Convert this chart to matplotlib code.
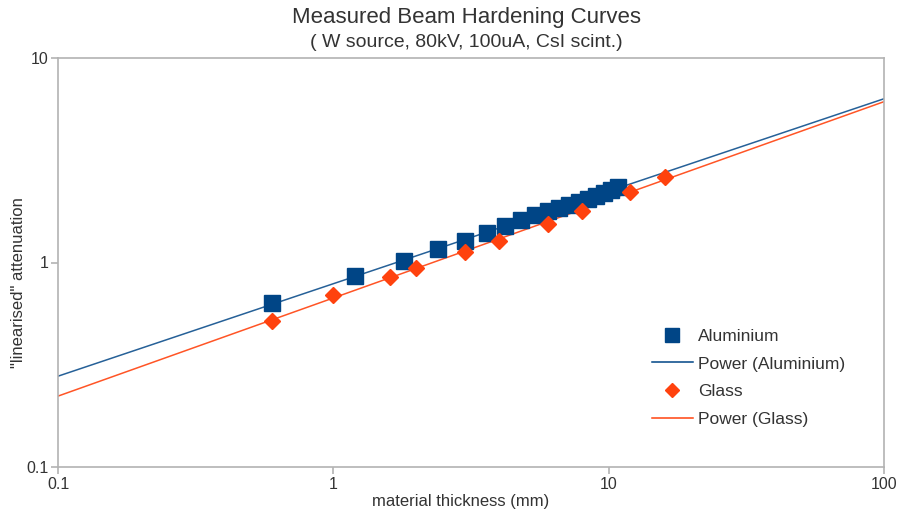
import numpy as np
import matplotlib
matplotlib.use("Agg")
import matplotlib.pyplot as plt
from matplotlib.lines import Line2D

plt.rcParams['font.family'] = ['Liberation Sans', 'DejaVu Sans']

# measured points
al_thickness = [0.6, 1.2, 1.8, 2.4, 3.0, 3.6, 4.2, 4.8, 5.4, 6.0,
                6.6, 7.2, 7.8, 8.4, 9.0, 9.6, 10.2, 10.8]
al_atten = [0.635, 0.855, 1.02, 1.16, 1.28, 1.39, 1.50, 1.61, 1.71, 1.78,
            1.85, 1.92, 1.98, 2.05, 2.12, 2.19, 2.26, 2.35]
glass_thickness = [0.6, 1.0, 1.6, 2.0, 3.0, 4.0, 6.0, 8.0, 12.0, 16.0]
glass_atten = [0.52, 0.69, 0.85, 0.935, 1.13, 1.28, 1.55, 1.78, 2.22, 2.63]

AL_COL = '#004586'
GL_COL = '#ff420e'
TXT = '#333333'


def power_fit(x, y):
    b, loga = np.polyfit(np.log10(x), np.log10(y), 1)
    return 10 ** loga, b


fig = plt.figure(figsize=(8.97, 5.14), dpi=100)
ax = fig.add_axes([58 / 897, 1 - 467 / 514, (884 - 58) / 897, (467 - 58) / 514])
ax.set_xscale('log')
ax.set_yscale('log')
ax.set_xlim(0.1, 100)
ax.set_ylim(0.1, 10)

xx = np.logspace(-1, 2, 200)
a, b = power_fit(al_thickness, al_atten)
ax.plot(xx, a * xx ** b, color=AL_COL, lw=1.1, alpha=0.85, zorder=2)
a, b = power_fit(glass_thickness, glass_atten)
ax.plot(xx, a * xx ** b, color=GL_COL, lw=1.1, alpha=0.9, zorder=2)

ax.plot(al_thickness, al_atten, ls='none', marker='s', ms=11.5, color=AL_COL, zorder=3)
ax.plot(glass_thickness, glass_atten, ls='none', marker='D', ms=8, color=GL_COL, zorder=3)

for s in ax.spines.values():
    s.set_color('#b3b3b3')
    s.set_linewidth(1.2)
ax.minorticks_off()
ax.set_xticks([0.1, 1, 10, 100])
ax.set_xticklabels(['0.1', '1', '10', '100'])
ax.set_yticks([0.1, 1, 10])
ax.set_yticklabels(['0.1', '1', '10'])
ax.tick_params(which='both', direction='out', length=5, color='#b3b3b3', width=1.2,
               labelsize=11.5, labelcolor=TXT, pad=2)

ax.set_xlabel('material thickness (mm)', fontsize=12, color=TXT)
ax.xaxis.set_label_coords(0.488, -0.065)
ax.set_ylabel('"linearised" attenuation', fontsize=12, color=TXT)
ax.yaxis.set_label_coords(-0.039, 0.45)
fig.text(0.52, 0.966, 'Measured Beam Hardening Curves', ha='center', va='center',
         fontsize=16, color=TXT)
fig.text(0.52, 0.918, '( W source, 80kV, 100uA, CsI scint.)', ha='center', va='center',
         fontsize=14, color=TXT)

handles = [
    Line2D([], [], ls='none', marker='s', ms=10, color=AL_COL),
    Line2D([], [], color=AL_COL, lw=1.1),
    Line2D([], [], ls='none', marker='D', ms=7.5, color=GL_COL),
    Line2D([], [], color=GL_COL, lw=1.1),
]
labels = ['Aluminium', 'Power (Aluminium)', 'Glass', 'Power (Glass)']
ax.legend(handles, labels, loc='upper left', bbox_to_anchor=(0.719, 0.338),
          borderaxespad=0, borderpad=0, frameon=False, fontsize=12.5,
          labelspacing=0.72, handlelength=2.36, handletextpad=0.3,
          labelcolor=TXT)

fig.savefig('out.png', dpi=100)
